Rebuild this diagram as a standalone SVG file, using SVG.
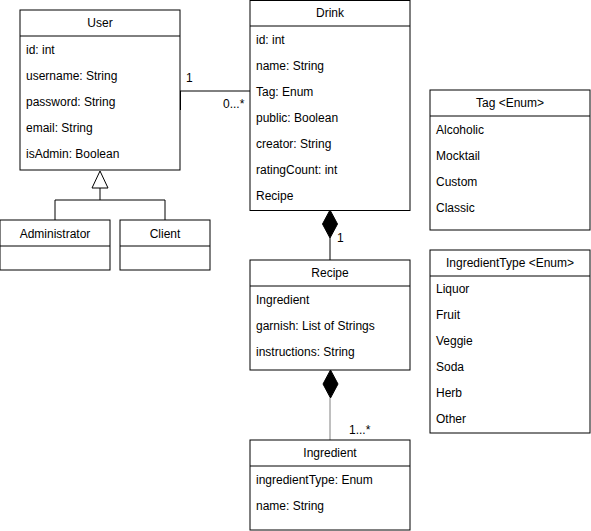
<svg xmlns="http://www.w3.org/2000/svg" width="591" height="531" viewBox="0 0 591 531">
<style>
.box{fill:#fff;stroke:#000;stroke-width:1}
.t{font-family:"Liberation Sans",Arial,sans-serif;font-size:12px;fill:#000}
.h{text-anchor:middle}
.ln{fill:none;stroke:#000;stroke-width:1}
</style>
<rect width="591" height="531" fill="#fff"/>
<g id="connectors">
  <path class="ln" d="M180,110 L180,91 L250,91"/>
  <line x1="180" y1="91" x2="180" y2="110" stroke="#000" stroke-width="2"/>
  <text class="t" x="186" y="82">1</text>
  <text class="t" x="223" y="108">0...*</text>
  <path class="ln" d="M100,188 L100,200 M55,220 L55,200 L165,200 L165,220"/>
  <polygon points="100,171 108,188 92,188" fill="#fff" stroke="#000"/>
  <line class="ln" x1="330" y1="238" x2="330" y2="260"/>
  <polygon points="330,210 337.5,224 330,238 322.5,224" fill="#000" stroke="#000"/>
  <text class="t" x="337" y="242">1</text>
  <line x1="330" y1="398" x2="330" y2="440" stroke="#808080" stroke-width="1"/>
  <polygon points="330.5,370 338,384 330.5,398 323,384" fill="#000" stroke="#000"/>
  <text class="t" x="349" y="434">1...*</text>
</g>
<g id="User">
  <rect class="box" x="20" y="10" width="160" height="160"/>
  <line class="ln" x1="20" y1="36" x2="180" y2="36"/>
  <text class="t h" x="100" y="27">User</text>
  <text class="t" x="26" y="54">id: int</text>
  <text class="t" x="26" y="80">username: String</text>
  <text class="t" x="26" y="106">password: String</text>
  <text class="t" x="26" y="132">email: String</text>
  <text class="t" x="26" y="158">isAdmin: Boolean</text>
</g>
<g id="Administrator">
  <rect class="box" x="0" y="220" width="110" height="50"/>
  <line class="ln" x1="0" y1="246" x2="110" y2="246"/>
  <text class="t h" x="55" y="238">Administrator</text>
</g>
<g id="Client">
  <rect class="box" x="120" y="220" width="90" height="50"/>
  <line class="ln" x1="120" y1="246" x2="210" y2="246"/>
  <text class="t h" x="165" y="238">Client</text>
</g>
<g id="Drink">
  <rect class="box" x="250" y="0.5" width="160" height="210"/>
  <line class="ln" x1="250" y1="26" x2="410" y2="26"/>
  <text class="t h" x="330" y="17">Drink</text>
  <text class="t" x="256" y="44">id: int</text>
  <text class="t" x="256" y="70">name: String</text>
  <text class="t" x="256" y="96">Tag: Enum</text>
  <text class="t" x="256" y="122">public: Boolean</text>
  <text class="t" x="256" y="148">creator: String</text>
  <text class="t" x="256" y="174">ratingCount: int</text>
  <text class="t" x="256" y="200">Recipe</text>
</g>
<g id="TagEnum">
  <rect class="box" x="430" y="90" width="160" height="140"/>
  <line class="ln" x1="430" y1="116" x2="590" y2="116"/>
  <text class="t h" x="510" y="107">Tag &lt;Enum&gt;</text>
  <text class="t" x="436" y="134">Alcoholic</text>
  <text class="t" x="436" y="160">Mocktail</text>
  <text class="t" x="436" y="186">Custom</text>
  <text class="t" x="436" y="212">Classic</text>
</g>
<g id="Recipe">
  <rect class="box" x="250" y="260" width="160" height="110"/>
  <line class="ln" x1="250" y1="286" x2="410" y2="286"/>
  <text class="t h" x="330" y="277">Recipe</text>
  <text class="t" x="256" y="304">Ingredient</text>
  <text class="t" x="256" y="330">garnish: List of Strings</text>
  <text class="t" x="256" y="356">instructions: String</text>
</g>
<g id="IngredientTypeEnum">
  <rect class="box" x="430" y="250" width="160" height="183"/>
  <line class="ln" x1="430" y1="276" x2="590" y2="276"/>
  <text class="t h" x="510" y="267">IngredientType &lt;Enum&gt;</text>
  <text class="t" x="436" y="293">Liquor</text>
  <text class="t" x="436" y="319">Fruit</text>
  <text class="t" x="436" y="345">Veggie</text>
  <text class="t" x="436" y="371">Soda</text>
  <text class="t" x="436" y="397">Herb</text>
  <text class="t" x="436" y="423">Other</text>
</g>
<g id="Ingredient">
  <rect class="box" x="250" y="440" width="160" height="90"/>
  <line class="ln" x1="250" y1="466" x2="410" y2="466"/>
  <text class="t h" x="330" y="457">Ingredient</text>
  <text class="t" x="256" y="484">ingredientType: Enum</text>
  <text class="t" x="256" y="510">name: String</text>
</g>
</svg>
